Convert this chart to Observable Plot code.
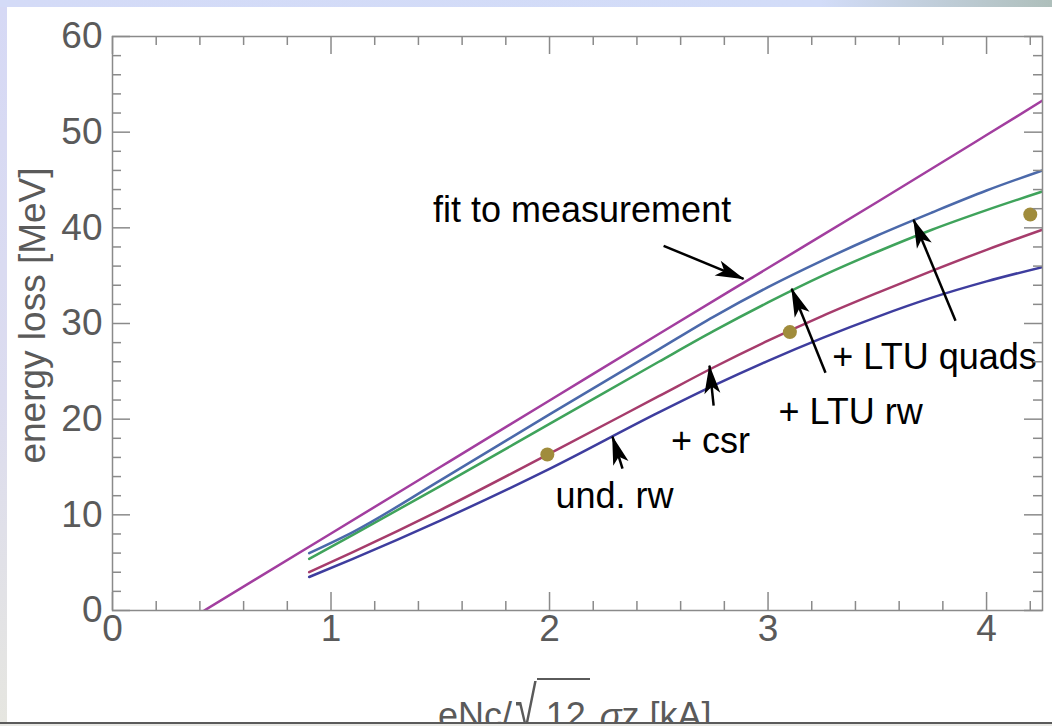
<!DOCTYPE html>
<html><head><meta charset="utf-8">
<script src="https://cdn.jsdelivr.net/npm/d3@7"></script>
<script src="https://cdn.jsdelivr.net/npm/@observablehq/plot@0.6"></script>
<style>
html,body{margin:0;padding:0;background:#fff;}
#wrap{position:relative;width:1052px;height:726px;overflow:hidden;background:#fff;font-family:'Liberation Sans',Arial,sans-serif;}
#topbar{position:absolute;left:0;top:0;width:1052px;height:7px;background:linear-gradient(to right,#d4dbf7 0%,#d2dcf8 78%,#aebfbb 100%);}
#leftbar{position:absolute;left:0;top:7px;width:7px;height:715px;background:linear-gradient(to bottom,#d6d9f5 0%,#dcdcef 55%,#e6e6e0 100%);}
#bottomline{position:absolute;left:0;top:722px;width:1052px;height:2px;background:#5a5a5a;}
#bottomstrip{position:absolute;left:0;top:724px;width:1052px;height:2px;background:#e8e8e4;}
#xclip{position:absolute;left:0;top:0;width:1052px;height:722px;overflow:hidden;pointer-events:none;}
#xlabel{position:absolute;left:438px;top:698px;font-size:36px;line-height:1;color:#5a5a5a;white-space:nowrap;font-family:'Liberation Sans',Arial,sans-serif;}
#xlabel .rad{display:inline-block;transform:scale(1.1,1.65);transform-origin:50% 85%;margin-left:4px;margin-right:1px;}
#xlabel .ov{padding-top:15px;padding-left:9px;padding-right:4px;border-top:2px solid #5a5a5a;}
#chart{position:absolute;left:0;top:0;}
</style>
</head><body>
<div id="wrap">
  <div id="chart"></div>
  <div id="topbar"></div>
  <div id="leftbar"></div>
  <div id="xclip"><div id="xlabel">eNc/<span class="rad">√</span><span class="ov">12</span> <i>σ</i>z [kA]</div></div>
  <div id="bottomline"></div>
  <div id="bottomstrip"></div>
</div>
<script>
// ---- data ----
const xFit = [0.42, 1.0, 1.5, 2.0, 2.5, 3.0, 3.5, 4.0, 4.256];
const yFit = [0, 8.05, 15.0, 21.95, 28.9, 35.8, 42.7, 49.7, 53.3];

const xModel = [0.9, 1.1, 1.5, 2.0, 2.5, 2.75, 3.0, 3.25, 3.5, 3.75, 4.0, 4.256];
const yQuads = [6.0, 8.2, 13.6, 20.5, 27.3, 30.7, 33.8, 36.6, 39.2, 41.6, 43.9, 46.0];
const yLtuRw = [5.4, 7.9, 13.0, 19.5, 26.0, 29.2, 32.2, 35.0, 37.5, 39.8, 41.85, 43.8];
const yCsr   = [4.0, 6.1, 10.5, 16.4, 22.4, 25.4, 28.2, 30.8, 33.2, 35.5, 37.7, 39.8];
const yUndRw = [3.5, 5.4, 9.4, 14.8, 20.7, 23.5, 26.1, 28.5, 30.7, 32.7, 34.4, 35.9];

const xMeas = [1.99, 3.1, 4.2];
const yMeas = [16.3, 29.1, 41.4];

const labels = ["fit to measurement", "+ LTU quads", "+ LTU rw", "+ csr", "und. rw"];
const labelX = [2.149, 3.762, 3.378, 2.737, 2.297];
const labelY = [41.8, 26.4, 20.7, 17.65, 11.9];
const arrowX1 = [2.522, 3.858, 3.263, 2.751, 2.334];
const arrowY1 = [38.12, 30.29, 24.86, 21.41, 14.83];
const arrowX2 = [2.888, 3.666, 3.108, 2.732, 2.288];
const arrowY2 = [34.67, 40.84, 33.63, 25.59, 18.17];

const xMajor = [0, 1, 2, 3, 4];
const xMinor = [0.2, 0.4, 0.6, 0.8, 1.2, 1.4, 1.6, 1.8, 2.2, 2.4, 2.6, 2.8, 3.2, 3.4, 3.6, 3.8, 4.2];
const yMajor = [0, 10, 20, 30, 40, 50, 60];
const yMinor = [2, 4, 6, 8, 12, 14, 16, 18, 22, 24, 26, 28, 32, 34, 36, 38, 42, 44, 46, 48, 52, 54, 56, 58];
const yTitle = "energy loss [MeV]";

// ---- layout ----
const W = 1052, H = 726;
const mL = 112, mT = 36, mR = 10, mB = 116;
const pw = W - mL - mR, ph = H - mT - mB;
const majorLen = 18, minorLen = 9;
const tickColor = "#8a8a8a", labelColor = "#5a5a5a";
const font = "'Liberation Sans', Arial, sans-serif";

const pts = (xs, ys) => xs.map((x, i) => ({x, y: ys[i]}));
const series = [
  {data: pts(xModel, yUndRw), color: "#3e3d9e"},
  {data: pts(xModel, yCsr), color: "#a63c6c"},
  {data: pts(xModel, yLtuRw), color: "#3fa35b"},
  {data: pts(xModel, yQuads), color: "#4b69aa"},
  {data: pts(xFit, yFit), color: "#a23e9f"}
];
const ann = labels.map((t, i) => ({t, x: labelX[i], y: labelY[i]}));
const arrows = labels.map((t, i) => ({x1: arrowX1[i], y1: arrowY1[i], x2: arrowX2[i], y2: arrowY2[i]}));
const meas = pts(xMeas, yMeas);

function arrowHead(color, context) {
  const ns = "http://www.w3.org/2000/svg";
  const m = document.createElementNS(ns, "marker");
  m.setAttribute("viewBox", "-31 -10 33 20");
  m.setAttribute("markerWidth", "33");
  m.setAttribute("markerHeight", "20");
  m.setAttribute("markerUnits", "userSpaceOnUse");
  m.setAttribute("refX", "0");
  m.setAttribute("refY", "0");
  m.setAttribute("orient", "auto");
  const p = document.createElementNS(ns, "path");
  p.setAttribute("d", "M1,0L-28,-8L-21,0L-28,8Z");
  p.setAttribute("fill", "black");
  p.setAttribute("stroke", "none");
  m.appendChild(p);
  return m;
}

const tickMarks = [
  Plot.tickY(yMajor, {y: d => d, insetRight: pw - majorLen, stroke: tickColor, strokeWidth: 1.5}),
  Plot.tickY(yMinor, {y: d => d, insetRight: pw - minorLen, stroke: tickColor, strokeWidth: 1.5}),
  Plot.tickY(yMajor, {y: d => d, insetLeft: pw - majorLen, stroke: tickColor, strokeWidth: 1.5}),
  Plot.tickY(yMinor, {y: d => d, insetLeft: pw - minorLen, stroke: tickColor, strokeWidth: 1.5}),
  Plot.tickX(xMajor, {x: d => d, insetTop: ph - majorLen, stroke: tickColor, strokeWidth: 1.5}),
  Plot.tickX(xMinor, {x: d => d, insetTop: ph - minorLen, stroke: tickColor, strokeWidth: 1.5}),
  Plot.tickX(xMajor, {x: d => d, insetBottom: ph - majorLen, stroke: tickColor, strokeWidth: 1.5}),
  Plot.tickX(xMinor, {x: d => d, insetBottom: ph - minorLen, stroke: tickColor, strokeWidth: 1.5})
];

const plot = Plot.plot({
  width: W, height: H,
  marginLeft: mL, marginTop: mT, marginRight: mR, marginBottom: mB,
  x: {domain: [0, 4.256], axis: null},
  y: {domain: [0, 60], axis: null},
  style: {fontFamily: font, background: "transparent"},
  marks: [
    ...series.map(s => Plot.line(s.data, {x: "x", y: "y", stroke: s.color, strokeWidth: 2.5, curve: "monotone-x", clip: true})),
    Plot.dot(meas, {x: "x", y: "y", r: 7, fill: "#a08c3c", stroke: "none"}),
    Plot.link(arrows, {x1: "x1", y1: "y1", x2: "x2", y2: "y2", stroke: "black", strokeWidth: 2.5, markerEnd: arrowHead}),
    Plot.text(ann, {x: "x", y: "y", text: "t", fontSize: 36, fill: "black", textAnchor: "middle", fontFamily: font}),
    Plot.frame({stroke: tickColor, strokeWidth: 1.5}),
    ...tickMarks,
    Plot.text(xMajor, {x: d => d, frameAnchor: "bottom", dy: 30, text: d => String(d), fontSize: 37, fill: labelColor, fontFamily: font}),
    Plot.text(yMajor, {y: d => d, frameAnchor: "left", dx: -10, textAnchor: "end", text: d => String(d), fontSize: 37, fill: labelColor, fontFamily: font}),
    Plot.text([yTitle], {frameAnchor: "left", dx: -79, dy: -8, rotate: -90, textAnchor: "middle", text: d => d, fontSize: 37, fill: labelColor, fontFamily: font})
  ]
});
document.getElementById("chart").appendChild(plot);
</script>
</body></html>
